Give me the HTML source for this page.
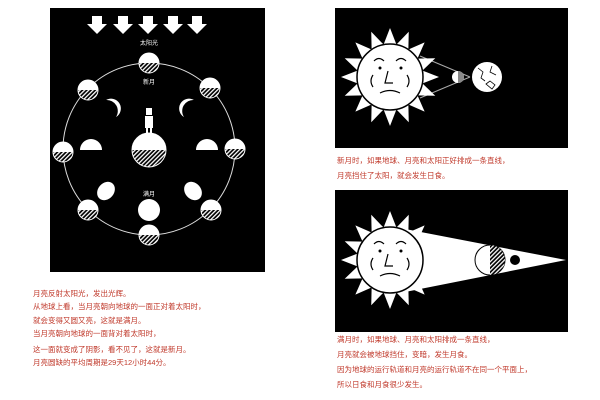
<!DOCTYPE html>
<html><head><meta charset="utf-8"><style>
body{margin:0;background:#fff;width:600px;height:400px;overflow:hidden;position:relative;font-family:"Liberation Sans","Noto Sans CJK SC",sans-serif}
.t{position:absolute;color:#c0392b;font-size:7.5px;white-space:nowrap;line-height:9px}
</style></head><body>
<svg width="600" height="400" style="position:absolute;left:0;top:0">
<defs>
<pattern id="h" width="3" height="3" patternUnits="userSpaceOnUse" patternTransform="rotate(45)"><rect width="3" height="3" fill="#000"/><rect width="1.3" height="3" fill="#fff"/></pattern>
<g id="om"><circle r="10" fill="url(#h)" stroke="#fff" stroke-width="1"/><path d="M-10 0A10 10 0 0 1 10 0Z" fill="#fff"/></g>
<polygon id="ray" points="0,-49 -7,-31 7,-31" fill="#fff"/>
<g id="sun">
<use href="#ray" transform="rotate(0)"/><use href="#ray" transform="rotate(22.5)"/><use href="#ray" transform="rotate(45)"/><use href="#ray" transform="rotate(67.5)"/><use href="#ray" transform="rotate(90)"/><use href="#ray" transform="rotate(112.5)"/><use href="#ray" transform="rotate(135)"/><use href="#ray" transform="rotate(157.5)"/><use href="#ray" transform="rotate(180)"/><use href="#ray" transform="rotate(202.5)"/><use href="#ray" transform="rotate(225)"/><use href="#ray" transform="rotate(247.5)"/><use href="#ray" transform="rotate(270)"/><use href="#ray" transform="rotate(292.5)"/><use href="#ray" transform="rotate(315)"/><use href="#ray" transform="rotate(337.5)"/>
<circle r="33" fill="#fff" stroke="#000" stroke-width="1.5"/>
<g fill="none" stroke="#000" stroke-width="1.2">
<path d="M-16 -16q5-5 10 0M6 -16q5-5 10 0M-2 -6l-3 12h8M-10 16q10-5 20 0M-17 -2q-4 6 0 12M17 -2q4 6 0 12"/>
</g>
<circle cx="-10" cy="-9" r="1.5"/><circle cx="11" cy="-9" r="1.5"/>
</g>
<polygon id="ar" points="-5,0 5,0 5,8 10,8 0,18 -10,8 -5,8" fill="#fff"/>
</defs>
<rect x="50" y="8" width="215" height="264" fill="#000"/>
<use href="#ar" x="97" y="16"/><use href="#ar" x="123" y="16"/><use href="#ar" x="148" y="16"/><use href="#ar" x="173" y="16"/><use href="#ar" x="197" y="16"/>
<text x="149" y="45" fill="#fff" font-size="6" text-anchor="middle" font-family="Liberation Sans,Noto Sans CJK SC,sans-serif">太阳光</text>
<circle cx="149" cy="149" r="86" fill="none" stroke="#ddd" stroke-width="1"/>
<text x="149" y="84" fill="#fff" font-size="6" text-anchor="middle" font-family="Liberation Sans,Noto Sans CJK SC,sans-serif">新月</text>
<text x="149" y="196" fill="#fff" font-size="6" text-anchor="middle" font-family="Liberation Sans,Noto Sans CJK SC,sans-serif">满月</text>
<use href="#om" x="149" y="63"/><use href="#om" x="88" y="90"/><use href="#om" x="210" y="88"/><use href="#om" x="63" y="152"/><use href="#om" x="235" y="149"/><use href="#om" x="88" y="210"/><use href="#om" x="211" y="210"/><use href="#om" x="149" y="235"/>
<path d="M106 100a11 11 0 0 1 10 17a8 8 0 0 0-10-17z" fill="#fff"/>
<path d="M194 100a11 11 0 0 0-10 17a8 8 0 0 1 10-17z" fill="#fff"/>
<path d="M80 150a11 11 0 0 1 22 0z" fill="#fff"/><path d="M196 150a11 11 0 0 1 22 0z" fill="#fff"/>
<ellipse cx="106" cy="191" rx="8" ry="10" fill="#fff" transform="rotate(40 106 191)"/>
<ellipse cx="193" cy="191" rx="8" ry="10" fill="#fff" transform="rotate(-40 193 191)"/>
<circle cx="149" cy="210" r="11" fill="#fff"/>
<circle cx="149" cy="150" r="17" fill="url(#h)" stroke="#fff"/><path d="M132 150a17 17 0 0 1 34 0z" fill="#fff"/>
<rect x="145" y="116" width="8" height="12" fill="#fff"/><rect x="146" y="108" width="6" height="7" fill="#fff"/><rect x="146" y="128" width="2" height="5" fill="#fff"/><rect x="150" y="128" width="2" height="5" fill="#fff"/>
<rect x="335" y="8" width="233" height="140" fill="#000"/>
<line x1="420" y1="56" x2="470" y2="77" stroke="#aaa"/><line x1="420" y1="98" x2="470" y2="77" stroke="#aaa"/>
<use href="#sun" x="390" y="77"/>
<circle cx="458" cy="77" r="6" fill="#fff"/><path d="M458 71a6 6 0 0 1 0 12z" fill="#888"/>
<circle cx="487" cy="77" r="15" fill="#fff"/>
<path d="M478 68l5 4-2 6 4 3M492 66l-2 6 6 3M486 84l4-3 5 4-3 4z" stroke="#000" fill="none" stroke-width="0.8"/>
<rect x="335" y="190" width="233" height="142" fill="#000"/>
<polygon points="400,228 566,260 400,293" fill="#fff"/>
<use href="#sun" x="390" y="260"/>
<circle cx="490" cy="260" r="15" fill="#fff" stroke="#000"/><path d="M490 245a15 15 0 0 1 0 30z" fill="url(#h)"/>
<circle cx="515" cy="260" r="5" fill="#000"/>
</svg>
<div class="t" style="left:33px;top:289px">月亮反射太阳光，发出光辉。</div>
<div class="t" style="left:33px;top:302px">从地球上看，当月亮朝向地球的一面正对着太阳时，</div>
<div class="t" style="left:33px;top:316px">就会变得又圆又亮，这就是满月。</div>
<div class="t" style="left:33px;top:329px">当月亮朝向地球的一面背对着太阳时，</div>
<div class="t" style="left:33px;top:345px">这一面就变成了阴影，看不见了，这就是新月。</div>
<div class="t" style="left:33px;top:358px">月亮圆缺的平均周期是29天12小时44分。</div>
<div class="t" style="left:337px;top:156px">新月时，如果地球、月亮和太阳正好排成一条直线，</div>
<div class="t" style="left:337px;top:171px">月亮挡住了太阳，就会发生日食。</div>
<div class="t" style="left:337px;top:335px">满月时，如果地球、月亮和太阳排成一条直线，</div>
<div class="t" style="left:337px;top:350px">月亮就会被地球挡住，变暗，发生月食。</div>
<div class="t" style="left:337px;top:365px">因为地球的运行轨道和月亮的运行轨道不在同一个平面上，</div>
<div class="t" style="left:337px;top:380px">所以日食和月食很少发生。</div>
</body></html>
